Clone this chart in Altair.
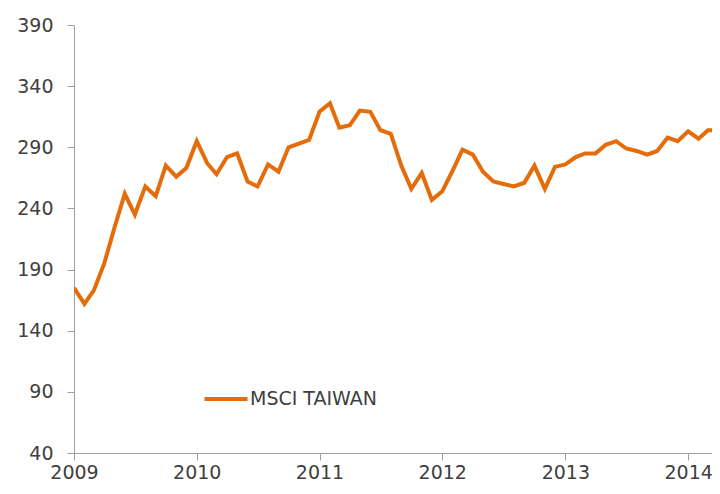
import altair as alt
import pandas as pd

series_name = "MSCI TAIWAN"
start_month = "2009-01-01"
values = [
    175, 162, 173, 195, 224, 252, 235, 258, 250, 275, 266, 273,
    295, 277, 268, 282, 285, 262, 258, 276, 270, 290, 293, 296,
    319, 326, 306, 308, 320, 319, 304, 301, 275, 256, 269, 247,
    254, 271, 288, 284, 270, 262, 260, 258, 261, 275, 256, 274,
    276, 282, 285, 285, 292, 295, 289, 287, 284, 287, 298, 295,
    303, 297, 304, 304,
]
y_ticks = [40, 90, 140, 190, 240, 290, 340, 390]

dates = pd.date_range(start_month, periods=len(values), freq="MS")
df = pd.DataFrame({"date": dates, "value": values, "series": series_name})

FONT = "DejaVu Sans"
ORANGE = "#E46C0A"

chart = (
    alt.Chart(df)
    .mark_line(strokeWidth=4, color=ORANGE, clip=True)
    .encode(
        x=alt.X(
            "date:T",
            scale=alt.Scale(domain=["2009-01-01", "2014-03-13"]),
            axis=alt.Axis(
                title=None,
                format="%Y",
                tickCount={"interval": "year", "step": 1},
                grid=False,
                labelFlush=False,
                labelOverlap=False,
                domainColor="#A0A0A0",
                tickColor="#A0A0A0",
                tickSize=7,
                labelPadding=3,
                labelFontSize=19,
                labelFont=FONT,
                labelColor="#404040",
            ),
        ),
        y=alt.Y(
            "value:Q",
            scale=alt.Scale(domain=[40, 390], nice=False, zero=False),
            axis=alt.Axis(
                title=None,
                values=y_ticks,
                grid=False,
                domainColor="#A0A0A0",
                tickColor="#A0A0A0",
                tickSize=7,
                labelPadding=14,
                labelFontSize=19,
                labelFont=FONT,
                labelColor="#404040",
            ),
        ),
        stroke=alt.Stroke(
            "series:N",
            scale=alt.Scale(range=[ORANGE]),
            legend=alt.Legend(
                title=None,
                orient="none",
                legendX=128,
                legendY=350,
                symbolType="stroke",
                symbolSize=1850,
                symbolStrokeWidth=4,
                labelFontSize=19,
                labelFont=FONT,
                labelColor="#404040",
                labelOffset=0,
            ),
        ),
    )
    .properties(
        width=638,
        height=428,
        background="white",
        autosize=alt.AutoSizeParams(type="none"),
        padding={"left": 66, "top": 17, "right": 0, "bottom": 33},
    )
    .configure_view(stroke=None)
)

chart.save("out.html", embed_options={"renderer": "svg", "actions": False})
